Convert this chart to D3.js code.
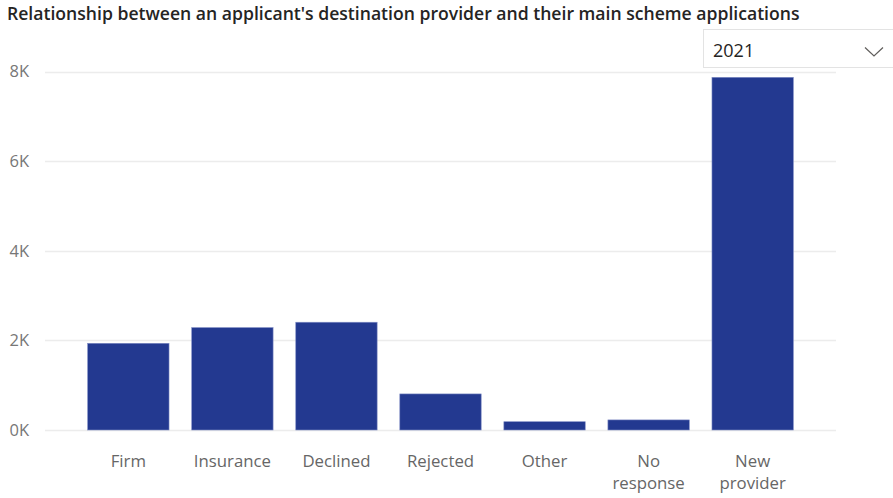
<!DOCTYPE html>
<html>
<head>
<meta charset="utf-8">
<script src="https://cdn.jsdelivr.net/npm/d3@7"></script>
<style>
  html, body { margin: 0; padding: 0; background: #fff; }
  svg { display: block; }
</style>
</head>
<body>
<svg id="chart" width="893" height="498"></svg>
<script>
// Destination provider outcome categories (two-line labels split on "|")
const categories = ["Firm", "Insurance", "Declined", "Rejected", "Other", "No|response", "New|provider"];
// Main scheme applications per category, 2021
const applications = [1935, 2285, 2405, 805, 185, 225, 7870];
// Y axis ticks
const yTicks = [0, 2000, 4000, 6000, 8000];
const yTickLabels = ["0K", "2K", "4K", "6K", "8K"];
// Year selector
const selectedYear = "2021";

const title = "Relationship between an applicant's destination provider and their main scheme applications";

const svg = d3.select("#chart");
const font = "'Segoe UI', 'Open Sans', sans-serif";

const plot = { left: 45, right: 836, top: 71.5, bottom: 430 };

const x = d3.scaleBand()
  .domain(categories)
  .range([plot.left, plot.right])
  .paddingInner(0.218)
  .paddingOuter(0.41);

const y = d3.scaleLinear()
  .domain([0, 8000])
  .range([plot.bottom, plot.top]);

// Title
svg.append("text")
  .attr("x", 7)
  .attr("y", 20)
  .attr("font-family", font)
  .attr("font-weight", 600)
  .attr("font-size", 17.6)
  .attr("fill", "#252423")
  .text(title);

// Gridlines
svg.append("g")
  .selectAll("line")
  .data(yTicks)
  .join("line")
  .attr("x1", plot.left)
  .attr("x2", plot.right)
  .attr("y1", d => Math.round(y(d)) + 0.5)
  .attr("y2", d => Math.round(y(d)) + 0.5)
  .attr("stroke", "#ececec")
  .attr("stroke-width", 1.3);

// Y axis labels
const yAxis = d3.axisLeft(y)
  .tickValues(yTicks)
  .tickFormat((d, i) => yTickLabels[i])
  .tickSize(0)
  .tickPadding(0);

svg.append("g")
  .attr("transform", "translate(29,0)")
  .call(yAxis)
  .call(g => g.select(".domain").remove())
  .call(g => g.selectAll("text")
    .attr("font-family", font)
    .attr("font-size", 16.5)
    .attr("fill", "#777777"));

// Bars
svg.append("g")
  .selectAll("rect")
  .data(categories)
  .join("rect")
  .attr("x", d => x(d))
  .attr("width", x.bandwidth())
  .attr("y", (d, i) => y(applications[i]))
  .attr("height", (d, i) => y(0) - y(applications[i]))
  .attr("fill", "#233990")
  .attr("stroke", "#7f8cc4")
  .attr("stroke-width", 0.6);

// X axis labels
const xAxis = d3.axisBottom(x).tickSize(0).tickFormat("");
const xg = svg.append("g")
  .attr("transform", `translate(0,${plot.bottom})`)
  .call(xAxis);
xg.select(".domain").remove();
xg.selectAll(".tick").each(function(d) {
  const t = d3.select(this).append("text")
    .attr("text-anchor", "middle")
    .attr("font-family", font)
    .attr("font-size", 16.8)
    .attr("fill", "#666666");
  d.split("|").forEach((line, i) => {
    t.append("tspan").attr("x", 0).attr("y", 36.5 + i * 22.5).text(line);
  });
});

// Year slicer
const slicer = svg.append("g");
slicer.append("rect")
  .attr("x", 703.5).attr("y", 29.5)
  .attr("width", 200).attr("height", 38)
  .attr("fill", "#ffffff")
  .attr("stroke", "#e3e3e3");
slicer.append("text")
  .attr("x", 713).attr("y", 56.5)
  .attr("font-family", font)
  .attr("font-size", 18)
  .attr("fill", "#252423")
  .text(selectedYear);
slicer.append("polyline")
  .attr("points", "865,47.5 874,56 883,47.5")
  .attr("fill", "none")
  .attr("stroke", "#605e5c")
  .attr("stroke-width", 1.2);
</script>
</body>
</html>
